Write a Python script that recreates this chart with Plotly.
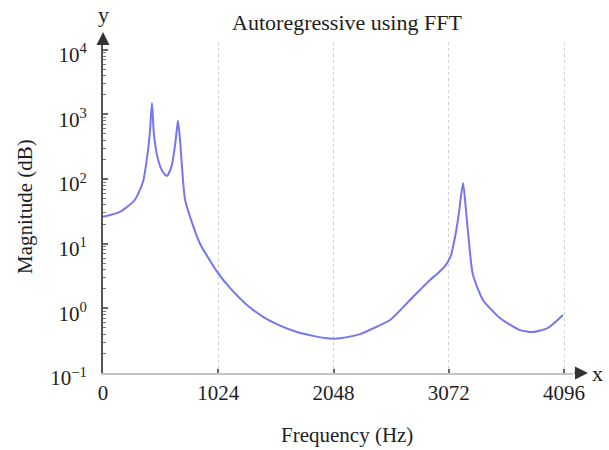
import plotly.graph_objects as go

# Data
freq_hz = [0, 150, 280, 355, 400, 418, 435, 453, 489, 530, 569, 610, 640, 655, 666, 684,
           729, 800, 862, 1013, 1128, 1279, 1422, 1573, 1724, 1866, 1990, 2048, 2106, 2283,
           2399, 2550, 2728, 2817, 2905, 2968, 3039, 3090, 3128, 3160, 3199, 3225, 3261,
           3287, 3376, 3527, 3705, 3821, 3954, 4087]
magnitude = [26, 31, 47, 90, 280, 575, 1500, 480, 200, 130, 112, 160, 330, 560, 800, 410,
             48, 19, 10, 3.7, 2.07, 1.13, 0.74, 0.54, 0.43, 0.375, 0.345, 0.34, 0.345, 0.40,
             0.49, 0.66, 1.35, 1.93, 2.75, 3.4, 4.5, 6.5, 12.7, 28, 87, 33, 7.2,
             3.3, 1.35, 0.71, 0.46, 0.43, 0.50, 0.79]

x_ticks = [0, 1024, 2048, 3072, 4096]
y_tick_vals = [0.1, 1, 10, 100, 1000, 10000]
y_tick_text = ["10<sup>\u22121</sup>", "10<sup>0</sup>", "10<sup>1</sup>", "10<sup>2</sup>",
               "10<sup>3</sup>", "10<sup>4</sup>"]
y_minor_vals = [m * 10 ** e for e in range(-1, 4) for m in range(2, 10)] + [12000]

FONT = "Liberation Serif"
TXT = "#1e1e1e"

fig = go.Figure()
fig.add_trace(go.Scatter(
    x=freq_hz, y=magnitude, mode="lines",
    line=dict(color="rgb(118,118,238)", width=2, shape="spline", smoothing=0.6),
    hoverinfo="skip", showlegend=False,
))

fig.update_layout(
    width=609, height=450,
    margin=dict(l=103, r=36, t=42, b=77),
    paper_bgcolor="white", plot_bgcolor="white",
    font=dict(family=FONT, size=21, color=TXT),
    title=dict(text="Autoregressive using FFT", x=347 / 609, xanchor="center",
               y=1 - 22 / 450, yanchor="middle", font=dict(family=FONT, size=22, color=TXT)),
    xaxis=dict(
        range=[0, 4176], tickmode="array", tickvals=x_ticks,
        ticks="inside", ticklen=4, tickcolor="#666", tickwidth=1.5,
        showline=True, linecolor="#c4c4c4", linewidth=2,
        showgrid=True, gridcolor="#cfcfcf", griddash="dot", gridwidth=1,
        zeroline=False, tickfont=dict(family=FONT, size=21, color=TXT),
    ),
    yaxis=dict(
        type="log", range=[-1, 4.12], tickmode="array",
        tickvals=y_tick_vals, ticktext=y_tick_text,
        ticks="inside", ticklen=5, tickcolor="#666", tickwidth=1.5,
        minor=dict(tickmode="array", tickvals=y_minor_vals, ticks="inside", ticklen=3,
                   tickcolor="#777", tickwidth=1, showgrid=False),
        showline=True, linecolor="#555", linewidth=2,
        showgrid=False, zeroline=False, ticklabelstandoff=10, ticklabelshift=5,
        tickfont=dict(family=FONT, size=21, color=TXT),
    ),
)

# axis arrows
fig.add_annotation(x=0, y=(373 - 32) / 331, xref="x", yref="paper", text="",
                   showarrow=True, ax=0, ay=14, arrowhead=2, arrowsize=1.3,
                   arrowwidth=2, arrowcolor="#333")
fig.add_annotation(x=(588 - 103) / 470, y=-1, xref="paper", yref="y", text="",
                   showarrow=True, ax=-15, ay=0, arrowhead=2, arrowsize=1.3,
                   arrowwidth=2, arrowcolor="#333")
fig.add_annotation(x=(103 - 103) / 470, y=(373 - 14) / 331, xref="paper", yref="paper",
                   xanchor="center", yanchor="middle",
                   text="y", showarrow=False, font=dict(family=FONT, size=22, color=TXT))
fig.add_annotation(x=(597 - 103) / 470, y=(373 - 373) / 331, xref="paper", yref="paper",
                   xanchor="center", yanchor="middle",
                   text="x", showarrow=False, font=dict(family=FONT, size=22, color=TXT))

# axis titles
fig.add_annotation(x=(347 - 103) / 470, y=(373 - 435) / 331, xref="paper", yref="paper",
                   xanchor="center", yanchor="middle",
                   text="Frequency (Hz)", showarrow=False,
                   font=dict(family=FONT, size=21, color=TXT))
fig.add_annotation(x=(25 - 103) / 470, y=(373 - 207) / 331, xref="paper", yref="paper",
                   xanchor="center", yanchor="middle",
                   text="Magnitude (dB)", showarrow=False, textangle=-90,
                   font=dict(family=FONT, size=21, color=TXT))

fig.write_html("out.html")
